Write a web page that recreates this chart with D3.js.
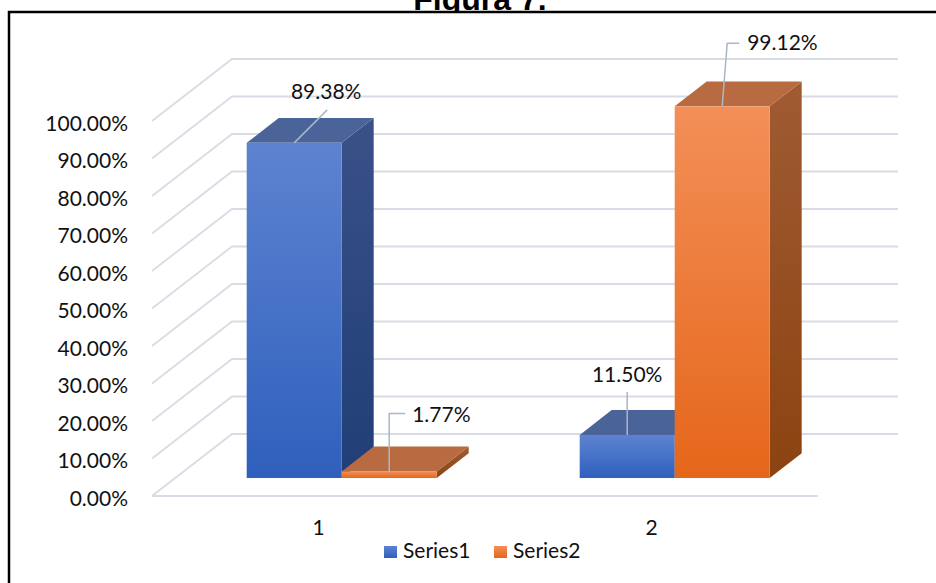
<!DOCTYPE html>
<html>
<head>
<meta charset="utf-8">
<script src="https://cdn.jsdelivr.net/npm/d3@7"></script>
<style>
  html, body { margin: 0; padding: 0; background: #fff; }
  svg { display: block; }
  text { font-family: Lato, "Open Sans", sans-serif; }
</style>
</head>
<body>
<svg id="chart" width="936" height="583"></svg>
<script>
// ---- data ----
const categories = ["1", "2"];
const seriesNames = ["Series1", "Series2"];
const series1 = [0.8938, 0.1150];
const series2 = [0.0177, 0.9912];
const yTicks = [0, 0.1, 0.2, 0.3, 0.4, 0.5, 0.6, 0.7, 0.8, 0.9, 1.0];
const titleText = "Figura 7.";

// ---- layout ----
const W = 936, H = 583;
const floorX0 = 152, floorX1 = 818, floorY = 496, topY = 121;
const DX = 80, DY = -62;          // depth vector of the 3D floor
const F0 = 0.29, F1 = 0.69;       // bar front/back depth fractions
const groupWidth = 190;
const FS = "21px";

const svg = d3.select("#chart");

// gradients
const defs = svg.append("defs");
function grad(id, c0, c1) {
  const g = defs.append("linearGradient").attr("id", id)
    .attr("x1", 0).attr("y1", 0).attr("x2", 0).attr("y2", 1);
  g.append("stop").attr("offset", "0%").attr("stop-color", c0);
  g.append("stop").attr("offset", "100%").attr("stop-color", c1);
}
const styles = [
  { front: ["#5d83d0", "#2f60bd"], side: ["#3a5188", "#203e77"], top: "#4a6399" },
  { front: ["#f38f58", "#e5661a"], side: ["#a05b33", "#8c4311"], top: "#b86b40" }
];
styles.forEach((s, i) => {
  grad("front" + i, s.front[0], s.front[1]);
  grad("side" + i, s.side[0], s.side[1]);
});

// title (drawn first, partially covered by the chart box as in the reference)
svg.append("text")
  .attr("x", 480).attr("y", 10)
  .attr("text-anchor", "middle")
  .style("font-family", "'Liberation Sans', Arial, sans-serif")
  .style("font-weight", "bold")
  .style("font-size", "32px")
  .attr("fill", "#000")
  .text(titleText);

// chart box
svg.append("rect")
  .attr("x", 9).attr("y", 12).attr("width", 1000).attr("height", 700)
  .attr("fill", "#fff").attr("stroke", "#000").attr("stroke-width", 2.5);

// scales
const y = d3.scaleLinear().domain([0, 1]).range([floorY, topY]);
const x = d3.scaleBand().domain(categories).range([floorX0, floorX1]).padding(0);
const xs = d3.scaleBand().domain(seriesNames).range([0, groupWidth]).padding(0);
const groupOffset = (x.bandwidth() - groupWidth) / 2;

// gridlines
const grid = svg.append("g").attr("stroke", "#d9dce4").attr("stroke-width", 1.8).attr("fill", "none");
yTicks.forEach(v => {
  const yy = y(v);
  grid.append("path").attr("d", `M${floorX0},${yy}L${floorX0 + DX},${yy + DY}L${floorX1 + DX},${yy + DY}`);
});
grid.append("line").attr("x1", floorX0).attr("y1", floorY).attr("x2", floorX1).attr("y2", floorY);

// bars
const bars = [];
categories.forEach((c, ci) => {
  [series1, series2].forEach((arr, si) => {
    bars.push({ cat: c, ser: seriesNames[si], si, v: arr[ci] });
  });
});
const gBars = svg.append("g");
const pts = a => a.map(p => p.join(",")).join(" ");
bars.forEach(d => {
  const xa = x(d.cat) + groupOffset + xs(d.ser);
  const xb = xa + xs.bandwidth();
  const yt = y(d.v), yb = y(0);
  const o0 = [F0 * DX, F0 * DY], o1 = [F1 * DX, F1 * DY];
  const P = (px, py, o) => [px + o[0], py + o[1]];
  d.front = { x: xa + o0[0], y: yt + o0[1], w: xb - xa, h: yb - yt };
  const g = gBars.append("g");
  g.append("polygon")
    .attr("points", pts([P(xb, yt, o0), P(xb, yb, o0), P(xb, yb, o1), P(xb, yt, o1)]))
    .attr("fill", `url(#side${d.si})`);
  g.append("polygon")
    .attr("points", pts([P(xa, yt, o0), P(xb, yt, o0), P(xb, yt, o1), P(xa, yt, o1)]))
    .attr("fill", styles[d.si].top);
  g.append("rect")
    .attr("x", d.front.x).attr("y", d.front.y)
    .attr("width", d.front.w).attr("height", Math.max(d.front.h, 0.5))
    .attr("fill", `url(#front${d.si})`);
});

// data labels with leader lines (label offsets are layout, set per bar)
const labelLayout = [
  { dx: 32, base: -44, anchor: "middle", leader: [[0, 0], [33, -33]] },
  { dx: 23, base: -49, anchor: "start",  leader: [[0, 0], [0, -58], [16, -58]] },
  { dx: 0,  base: -53, anchor: "middle", leader: [[0, 0], [0, -43]] },
  { dx: 25, base: -56, anchor: "start",  leader: [[0, 0], [5, -63], [17, -63]] }
];
const fmt = d3.format(".2%");
const gLab = svg.append("g");
bars.forEach((d, i) => {
  const cx = d.front.x + d.front.w / 2;
  const ty = d.front.y;
  const L = labelLayout[i];
  gLab.append("path")
    .attr("d", d3.line()(L.leader.map(p => [cx + p[0], ty + p[1]])))
    .attr("fill", "none").attr("stroke", "#a9b7c9").attr("stroke-width", 1.5);
  gLab.append("text")
    .attr("x", cx + L.dx).attr("y", ty + L.base)
    .attr("text-anchor", L.anchor)
    .style("font-size", FS).attr("fill", "#111")
    .text(fmt(d.v));
});

// y axis
const yAxis = svg.append("g").attr("transform", "translate(137,0)")
  .call(d3.axisLeft(y).tickValues(yTicks).tickSize(0).tickPadding(9).tickFormat(d3.format(".2%")));
yAxis.select(".domain").remove();
yAxis.selectAll("text").style("font-size", FS).style("font-family", "Lato, sans-serif").attr("fill", "#111").attr("dy", "0.45em");

// x axis
const xAxis = svg.append("g").attr("transform", `translate(0,${floorY})`)
  .call(d3.axisBottom(x).tickSize(0).tickPadding(0));
xAxis.select(".domain").remove();
xAxis.selectAll("text").style("font-size", FS).style("font-family", "Lato, sans-serif").attr("fill", "#111")
  .attr("y", 39).attr("dy", 0);

// legend
const legend = svg.append("g");
const legX = [384, 494];
seriesNames.forEach((s, i) => {
  legend.append("rect").attr("x", legX[i]).attr("y", 546).attr("width", 13).attr("height", 12)
    .attr("fill", `url(#front${i})`);
  legend.append("text").attr("x", legX[i] + 19).attr("y", 558)
    .style("font-size", FS).attr("fill", "#111").text(s);
});
</script>
</body>
</html>
